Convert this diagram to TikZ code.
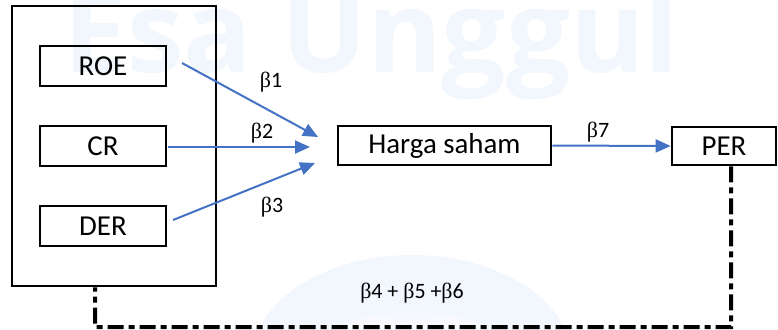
\documentclass[tikz,border=0pt]{standalone}
\usepackage{fontspec}
\setmainfont{Carlito}
\newfontfamily\wmfont{Open Sans}
\newfontfamily\grk{Liberation Serif}
\usetikzlibrary{arrows.meta,calc}
\definecolor{arrowblue}{HTML}{4472C4}
\definecolor{wmblue}{HTML}{F2F6FD}
\definecolor{wmblue2}{HTML}{F7F9FE}
\begin{document}
\begin{tikzpicture}[x=0.5bp,y=-0.5bp,
  box/.style={draw=black,line width=1.3bp,inner sep=0pt,font=\fontsize{14.5}{16}\selectfont},
  lab/.style={inner sep=0pt,font=\fontsize{11}{13}\selectfont},
  arr/.style={draw=arrowblue,line width=1bp,-{Triangle[length=7.5bp,width=6.5bp]}},
  dashdot/.style={draw=black,line width=2bp,dash pattern=on 8bp off 2.5bp on 3bp off 2.5bp}]
\useasboundingbox (0,0) rectangle (778,329);
% faint watermark
\fill[wmblue] (412,360) ellipse [x radius=160, y radius=105];
\fill[wmblue2] (412,385) ellipse [x radius=125, y radius=73];
\node[anchor=base west,inner sep=0pt,text=wmblue,font=\wmfont\bfseries\fontsize{57}{60}\selectfont] (wm) at (63,72) {Esa Unggul};
% nodes
\node[box,minimum width=102bp,minimum height=140bp] (grp) at (114,146) {};
\node[box,minimum width=63bp,minimum height=20bp] (roe) at (103,66) {ROE};
\node[box,minimum width=63bp,minimum height=20bp] (cr) at (103,146) {CR};
\node[box,minimum width=63bp,minimum height=20bp] (der) at (103,226) {DER};
\node[box,minimum width=106.5bp,minimum height=19.5bp] (hs) at (444.5,145.5) {Harga saham};
\node[box,minimum width=52bp,minimum height=19bp] (per) at (724,146) {PER};
% free ends
\coordinate (s1) at (182,63);
\coordinate (s2) at (168,147);
\coordinate (s3) at (173,220);
\coordinate (t1) at (318,137);
\coordinate (t2) at (310,147);
\coordinate (t3) at (315,163);
\draw[arr] (s1) -- (t1);
\draw[arr] (s2) -- (t2);
\draw[arr] (s3) -- (t3);
\draw[arr] (hs.east) -- (per.west);
% feedback dash-dot
\coordinate (pd) at ([xshift=3.5bp]per.south);
\coordinate (gd) at ([xshift=-9.5bp]grp.south);
\coordinate (bot) at (731,327);
\draw[dashdot] (pd) -- (bot) -| (gd);
% labels
\node[lab] (b1) at (271,82) {{\grk β}1};
\node[lab] (b2) at (262,133) {{\grk β}2};
\node[lab] (b3) at (272,207) {{\grk β}3};
\node[lab] (b7) at (598,132) {{\grk β}7};
\node[lab] (b456) at (412,293) {{\grk β}4 + {\grk β}5 +{\grk β}6};
\end{tikzpicture}
\end{document}
